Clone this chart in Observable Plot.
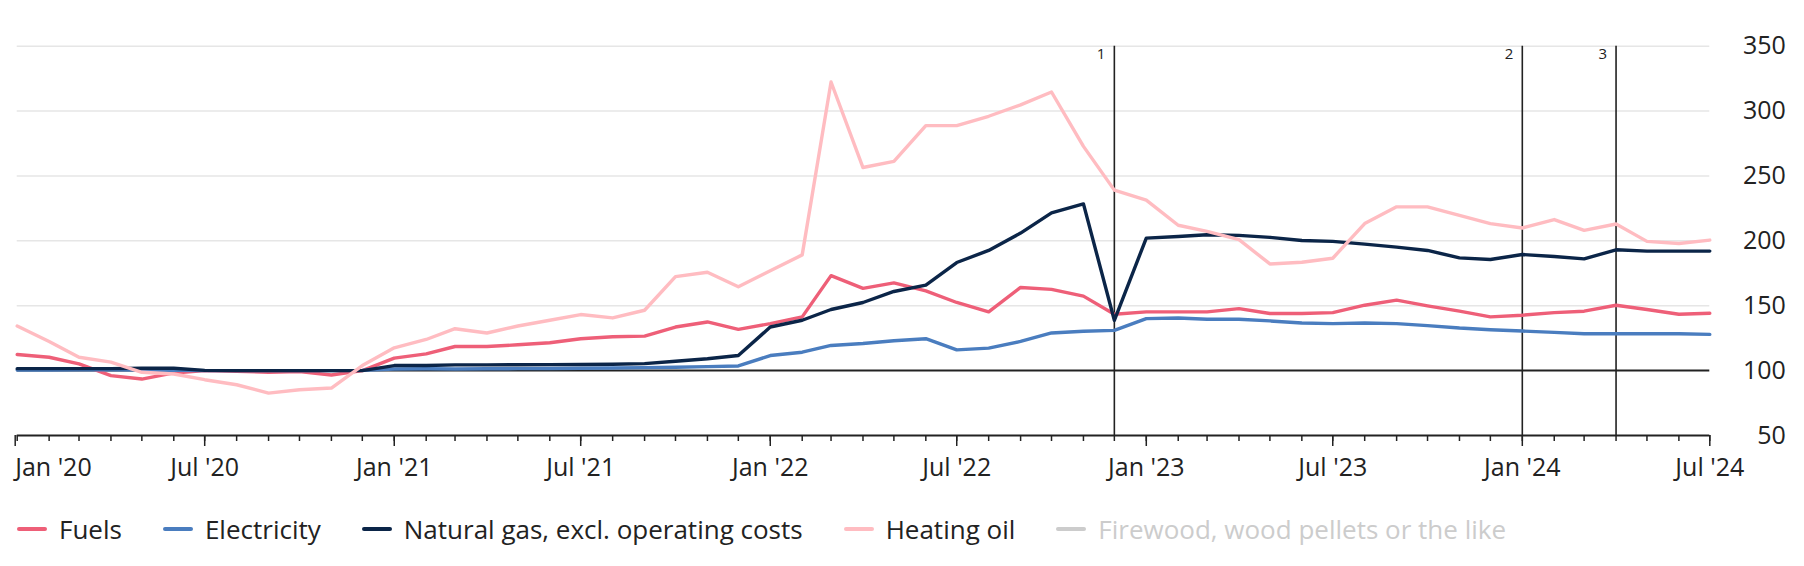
<!DOCTYPE html>
<html>
<head>
<meta charset="utf-8">
<script src="https://cdn.jsdelivr.net/npm/d3@7"></script>
<script src="https://cdn.jsdelivr.net/npm/@observablehq/plot@0.6"></script>
<style>
  body { margin: 0; background: #fff; font-family: "Open Sans", sans-serif; }
  #legend { display: flex; align-items: center; height: 58px; padding-left: 17px; font-size: 26px; color: #222; }
  .item { display: flex; align-items: center; margin-right: 41px; white-space: nowrap; }
  .sw { width: 30px; height: 4px; border-radius: 2px; margin-right: 12px; }
</style>
</head>
<body>
<div id="chart"></div>
<div id="legend"></div>
<script>
// Monthly index values, Jan 2020 – Jul 2024
const startYear = 2020;
const fuels = [
  112.4, 110.3, 105.2, 96.1, 93.5, 98.2, 100.0, 99.5, 98.7, 99.2, 96.6, 100.0,
  109.6, 112.9, 118.6, 118.6, 119.9, 121.5, 124.6, 126.1, 126.6, 133.6, 137.5, 131.8,
  136.2, 141.4, 173.2, 163.4, 167.6, 161.5, 152.5, 145.3, 164.1, 162.6, 157.4, 143.4,
  145.3, 145.3, 145.3, 147.8, 144.0, 144.0, 144.7, 150.4, 154.3, 149.9, 145.8, 141.4,
  142.7, 144.7, 145.8, 150.4, 147.1, 143.4, 144.2
];
const electricity = [
  100.4, 100.5, 100.6, 100.6, 100.5, 100.3, 100.0, 100.0, 100.0, 100.0, 100.0, 100.2,
  101.3, 101.4, 101.3, 101.4, 101.5, 101.6, 101.8, 102.0, 102.3, 102.6, 103.1, 103.6,
  111.6, 114.2, 119.4, 120.9, 123.0, 124.6, 116.0, 117.3, 122.5, 129.0, 130.3, 131.0,
  140.1, 140.6, 139.6, 139.6, 138.3, 136.7, 136.2, 136.7, 136.2, 134.7, 132.8, 131.5,
  130.5, 129.5, 128.4, 128.4, 128.4, 128.4, 127.9
];
const naturalGas = [
  101.5, 101.5, 101.5, 101.5, 101.8, 101.8, 100.2, 100.0, 100.0, 100.0, 100.0, 100.0,
  103.9, 103.9, 104.4, 104.4, 104.5, 104.6, 104.7, 104.9, 105.4, 107.2, 109.1, 111.6,
  133.6, 138.8, 147.1, 152.5, 161.0, 165.9, 183.3, 192.6, 206.0, 221.5, 228.5, 138.8,
  202.1, 203.4, 204.7, 204.2, 202.7, 200.3, 199.6, 197.5, 195.2, 192.6, 186.9, 185.6,
  189.5, 187.9, 186.1, 193.1, 192.1, 192.1, 192.1
];
const heatingOil = [
  134.4, 122.5, 110.3, 106.5, 98.7, 97.4, 93.0, 89.1, 82.7, 85.3, 86.6, 103.9,
  117.6, 124.0, 132.3, 129.0, 134.4, 138.8, 143.2, 140.6, 146.5, 172.4, 175.8, 164.6,
  177.0, 189.2, 322.4, 256.5, 261.2, 288.8, 288.8, 296.0, 304.8, 314.7, 272.8, 239.1,
  231.4, 212.0, 207.3, 200.9, 182.2, 183.5, 186.6, 213.3, 226.2, 226.2, 219.7, 213.3,
  209.9, 216.4, 208.1, 213.0, 199.6, 198.0, 200.6
];

const seriesNames = ["Fuels", "Electricity", "Natural gas, excl. operating costs", "Heating oil"];
const seriesColors = ["#ee5f78", "#4a7dbf", "#0b2548", "#ffbcc1"];
const seriesValues = [fuels, electricity, naturalGas, heatingOil];
const hiddenName = "Firewood, wood pellets or the like";
const hiddenColor = "#cccccc";

const yTicks = [50, 100, 150, 200, 250, 300, 350];
const gridValues = [150, 200, 250, 300, 350];
const baselineValue = 100;

// annotations: year, month index, label
const annotationYears = [2022, 2024, 2024];
const annotationMonths = [11, 0, 3];
const annotationLabels = ["1", "2", "3"];

const majorTickLabels = ["Jan '20", "Jul '20", "Jan '21", "Jul '21", "Jan '22", "Jul '22", "Jan '23", "Jul '23", "Jan '24", "Jul '24"];

// ---- build tables ----
const monthDate = (i) => new Date(Date.UTC(startYear, i, 1));
const rows = [];
seriesValues.forEach((vals, s) => {
  vals.forEach((v, i) => rows.push({date: monthDate(i), value: v, series: seriesNames[s]}));
});
const nMonths = fuels.length;
const minorTicks = d3.range(nMonths).map(monthDate);
const majorTicks = majorTickLabels.map((_, k) => monthDate(k * 6));
const labelByTime = new Map(majorTicks.map((d, k) => [+d, majorTickLabels[k]]));
const annotations = annotationLabels.map((l, k) => ({date: new Date(Date.UTC(annotationYears[k], annotationMonths[k], 1)), label: l}));

const fmt = (d) => labelByTime.get(+d);
const chart = Plot.plot({
  width: 1804,
  height: 500,
  marginLeft: 16.7,
  marginRight: 94.7,
  marginTop: 45.7,
  marginBottom: 65,
  x: {type: "utc", domain: [minorTicks[0], minorTicks[nMonths - 1]], label: null},
  y: {domain: [50, 350], label: null},
  color: {domain: seriesNames, range: seriesColors},
  style: {fontFamily: "'Open Sans', sans-serif", fontSize: "25px", color: "#222", background: "#fff", overflow: "visible"},
  marks: [
    Plot.ruleY(gridValues, {stroke: "#e6e6e6", strokeWidth: 1.5}),
    Plot.ruleY([baselineValue], {stroke: "#222", strokeWidth: 2}),
    Plot.ruleX(annotations, {x: "date", y1: 50, y2: 350, stroke: "#222", strokeWidth: 1.6}),
    Plot.text(annotations, {x: "date", y: 350, text: "label", textAnchor: "end", dx: -9, dy: 8, fontSize: 15, fill: "#222"}),
    Plot.lineY(rows, {x: "date", y: "value", z: "series", stroke: "series", strokeWidth: 3.4}),
    Plot.ruleY([50], {stroke: "#222", strokeWidth: 2}),
    Plot.axisX(minorTicks, {tickSize: 6, tickFormat: () => "", stroke: "#222", strokeWidth: 1.5, label: null}),
    Plot.axisX(majorTicks.slice(0, 1), {tickSize: 11, tickPadding: 12, tickFormat: fmt, textAnchor: "start", dx: -2, stroke: "#222", strokeWidth: 1.5, fill: "#222", fontSize: 25, label: null}),
    Plot.axisX(majorTicks.slice(1), {tickSize: 11, tickPadding: 12, tickFormat: fmt, stroke: "#222", strokeWidth: 1.5, fill: "#222", fontSize: 25, label: null}),
    Plot.axisY(yTicks, {anchor: "right", tickSize: 0, tickPadding: 76, textAnchor: "end", fill: "#222", fontSize: 25, label: null})
  ]
});
document.getElementById("chart").appendChild(chart);

// ---- legend ----
const legend = document.getElementById("legend");
const addItem = (name, color, textColor) => {
  const it = document.createElement("div");
  it.className = "item";
  const sw = document.createElement("div");
  sw.className = "sw";
  sw.style.background = color;
  const tx = document.createElement("span");
  tx.textContent = name;
  tx.style.color = textColor;
  it.appendChild(sw); it.appendChild(tx);
  legend.appendChild(it);
};
seriesNames.forEach((n, i) => addItem(n, seriesColors[i], "#222"));
addItem(hiddenName, hiddenColor, hiddenColor);
</script>
</body>
</html>
